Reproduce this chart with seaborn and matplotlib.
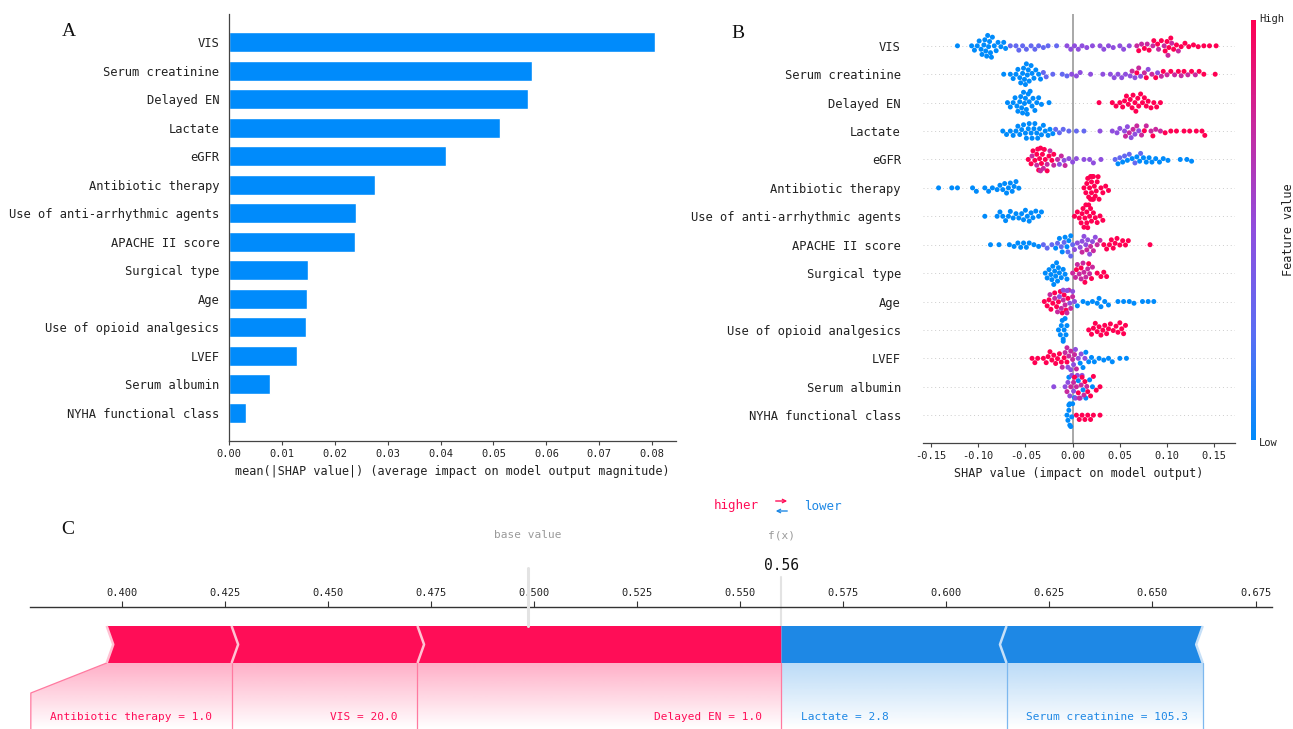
import warnings
warnings.filterwarnings("ignore")

import numpy as np
import pandas as pd
import matplotlib
matplotlib.use("Agg")
import matplotlib.pyplot as plt
import seaborn as sns
from matplotlib.colors import LinearSegmentedColormap, Normalize
from matplotlib.cm import ScalarMappable
from matplotlib.patches import Polygon
from matplotlib.ticker import FormatStrFormatter

# ---------------------------------------------------------------- data
features = ["VIS", "Serum creatinine", "Delayed EN", "Lactate", "eGFR",
            "Antibiotic therapy", "Use of anti-arrhythmic agents", "APACHE II score",
            "Surgical type", "Age", "Use of opioid analgesics", "LVEF",
            "Serum albumin", "NYHA functional class"]
mean_abs_shap = [0.0805, 0.0573, 0.0565, 0.0512, 0.0410, 0.0276, 0.0240, 0.0238,
                 0.0149, 0.0147, 0.0145, 0.0128, 0.0077, 0.0032]

# beeswarm SHAP values grouped by feature-value level
vis_low = [-0.122, -0.107, -0.104, -0.101, -0.099, -0.097, -0.096, -0.094, -0.093, -0.092, -0.091,
           -0.090, -0.089, -0.088, -0.087, -0.086, -0.085, -0.083, -0.081, -0.079, -0.076, -0.073, -0.071]
vis_mlow = [-0.066, -0.060, -0.057, -0.053, -0.049, -0.044, -0.040, -0.036, -0.031, -0.026, -0.017]
vis_mid = [-0.006, -0.002, 0.002, 0.006, 0.010, 0.015, 0.021, 0.029, 0.033, 0.038, 0.043, 0.050, 0.054, 0.060]
vis_mhigh = [0.068, 0.073, 0.079, 0.085, 0.091, 0.097, 0.101, 0.105, 0.112]
vis_high = [0.070, 0.076, 0.081, 0.086, 0.090, 0.094, 0.098, 0.100, 0.102, 0.104, 0.107, 0.110,
            0.115, 0.119, 0.123, 0.128, 0.133, 0.139, 0.145, 0.152]

scr_low = [-0.073, -0.066, -0.063, -0.060, -0.058, -0.056, -0.055, -0.053, -0.052, -0.051, -0.050,
           -0.049, -0.048, -0.047, -0.046, -0.044, -0.043, -0.041, -0.039, -0.036, -0.034]
scr_mlow = [-0.031, -0.028, -0.021, -0.011, -0.006]
scr_mid = [-0.001, 0.004, 0.008, 0.019, 0.032, 0.040, 0.044, 0.048, 0.052, 0.056, 0.061, 0.066, 0.072, 0.080, 0.090]
scr_mhigh = [0.063, 0.070, 0.076, 0.084, 0.094, 0.100, 0.108, 0.115, 0.122, 0.130]
scr_high = [0.068, 0.078, 0.088, 0.096, 0.104, 0.112, 0.118, 0.126, 0.134, 0.139, 0.151]

den_low = [-0.069, -0.066, -0.063, -0.061, -0.059, -0.058, -0.056, -0.055, -0.054, -0.053, -0.052,
           -0.051, -0.050, -0.049, -0.048, -0.047, -0.046, -0.045, -0.043, -0.042, -0.040, -0.038,
           -0.036, -0.033, -0.025]
den_high = [0.028, 0.042, 0.046, 0.050, 0.053, 0.055, 0.057, 0.059, 0.061, 0.063, 0.064, 0.066,
            0.067, 0.069, 0.070, 0.072, 0.074, 0.076, 0.078, 0.080, 0.083, 0.086, 0.089, 0.093]

lac_low = [-0.074, -0.070, -0.066, -0.063, -0.060, -0.058, -0.056, -0.054, -0.052, -0.050, -0.049,
           -0.047, -0.046, -0.044, -0.043, -0.041, -0.040, -0.038, -0.037, -0.035, -0.033, -0.031,
           -0.029, -0.026, -0.024, -0.021]
lac_mlow = [-0.018, -0.014, -0.010, -0.004, 0.004, 0.012]
lac_mid = [0.029, 0.042, 0.047, 0.050, 0.055, 0.058, 0.062, 0.066, 0.070]
lac_mhigh = [0.056, 0.060, 0.064, 0.068, 0.073, 0.078, 0.083, 0.088, 0.093]
lac_high = [0.076, 0.085, 0.098, 0.104, 0.110, 0.118, 0.124, 0.131, 0.137, 0.140]

egfr_high = [-0.047, -0.044, -0.042, -0.040, -0.038, -0.037, -0.036, -0.035, -0.034, -0.033, -0.032,
             -0.030, -0.029, -0.027, -0.025, -0.022, -0.020]
egfr_mhigh = [-0.043, -0.038, -0.034, -0.031, -0.027, -0.024, -0.020, -0.016, -0.012, -0.008]
egfr_mid = [-0.014, -0.009, -0.004, 0.000, 0.004, 0.012, 0.018, 0.022, 0.030]
egfr_mlow = [0.045, 0.050, 0.055, 0.060, 0.066, 0.072]
egfr_low = [0.048, 0.053, 0.058, 0.063, 0.068, 0.071, 0.075, 0.078, 0.081, 0.084, 0.088, 0.092,
            0.096, 0.101, 0.114, 0.121, 0.126]

abx_low = [-0.142, -0.128, -0.122, -0.106, -0.102, -0.093, -0.089, -0.085, -0.080, -0.077, -0.074,
           -0.072, -0.070, -0.068, -0.066, -0.064, -0.062, -0.060, -0.057]
abx_high = [0.012, 0.014, 0.015, 0.016, 0.017, 0.018, 0.019, 0.019, 0.020, 0.020, 0.021, 0.021,
            0.022, 0.022, 0.023, 0.024, 0.025, 0.026, 0.027, 0.028, 0.030, 0.032, 0.035, 0.038]

arr_low = [-0.093, -0.080, -0.077, -0.074, -0.071, -0.068, -0.066, -0.063, -0.060, -0.057, -0.054,
           -0.052, -0.050, -0.048, -0.046, -0.044, -0.042, -0.039, -0.036, -0.033]
arr_high = [0.002, 0.005, 0.007, 0.009, 0.010, 0.011, 0.012, 0.013, 0.014, 0.015, 0.015, 0.016,
            0.017, 0.018, 0.019, 0.020, 0.022, 0.024, 0.026, 0.029, 0.032]

apa_low = [-0.087, -0.078, -0.067, -0.062, -0.058, -0.055, -0.052, -0.049, -0.046, -0.041, -0.036,
           -0.018, -0.014, -0.011, -0.008, -0.006, -0.004, -0.002]
apa_mlow = [-0.031, -0.027, -0.022, -0.016, -0.012, -0.009, -0.005, -0.002, 0.000]
apa_mid = [0.002, 0.005, 0.008, 0.010, 0.012, 0.014, 0.016, 0.018, 0.021, 0.024]
apa_mhigh = [0.010, 0.015, 0.019, 0.022, 0.026, 0.029]
apa_high = [0.033, 0.036, 0.039, 0.041, 0.043, 0.045, 0.047, 0.050, 0.053, 0.056, 0.059, 0.082]

sur_low = [-0.029, -0.027, -0.025, -0.023, -0.022, -0.021, -0.020, -0.019, -0.018, -0.017, -0.016,
           -0.015, -0.014, -0.012, -0.010, -0.008, -0.006]
sur_mhigh = [0.000, 0.003, 0.005, 0.007, 0.009, 0.011, 0.012, 0.014, 0.016, 0.018, 0.021]
sur_high = [0.004, 0.009, 0.013, 0.017, 0.020, 0.026, 0.030, 0.033, 0.036]

age_high = [-0.030, -0.027, -0.025, -0.023, -0.021, -0.019, -0.017, -0.015, -0.013, -0.011, -0.009,
            -0.007, -0.005]
age_mhigh = [-0.024, -0.019, -0.016, -0.012, -0.010, -0.008, -0.006, -0.004, -0.002, 0.000]
age_mid = [-0.014, -0.010, -0.006, -0.003, 0.000, 0.002]
age_low = [0.005, 0.011, 0.016, 0.021, 0.026, 0.028, 0.030, 0.034, 0.038, 0.048, 0.054, 0.060,
           0.065, 0.074, 0.080, 0.086]

opi_low = [-0.015, -0.013, -0.012, -0.011, -0.010, -0.010, -0.009, -0.008, -0.007, -0.006]
opi_high = [0.017, 0.020, 0.022, 0.024, 0.026, 0.028, 0.030, 0.032, 0.034, 0.036, 0.038, 0.040,
            0.043, 0.046, 0.048, 0.050, 0.052, 0.054, 0.056]

lvef_high = [-0.043, -0.040, -0.037, -0.031, -0.028, -0.026, -0.024, -0.022, -0.020, -0.018, -0.016,
             -0.014, -0.012, -0.009, -0.006]
lvef_mhigh = [-0.011, -0.008, -0.006, -0.004, -0.002, 0.000, 0.002, 0.004]
lvef_mid = [-0.005, -0.002, 0.001, 0.003, 0.006, 0.009, 0.013]
lvef_low = [0.008, 0.011, 0.014, 0.017, 0.020, 0.023, 0.028, 0.033, 0.038, 0.042, 0.050, 0.057]

alb_low = [-0.004, 0.002, 0.006, 0.011, 0.014, 0.018, 0.021]
alb_mid = [-0.020, -0.008, -0.005, -0.003, -0.001, 0.001, 0.003, 0.005, 0.008, 0.010]
alb_mhigh = [-0.006, -0.002, 0.001, 0.004, 0.007, 0.009, 0.012, 0.015]
alb_high = [0.002, 0.006, 0.010, 0.013, 0.016, 0.019, 0.022, 0.025, 0.029]

nyha_low = [-0.006, -0.005, -0.004, -0.004, -0.003, -0.003, -0.002, -0.001, 0.000]
nyha_high = [0.004, 0.007, 0.010, 0.013, 0.016, 0.019, 0.022, 0.029]

# force plot for a single prediction
force_labels = ["Antibiotic therapy = 1.0", "VIS = 20.0", "Delayed EN = 1.0",
                "Lactate = 2.8", "Serum creatinine = 105.3"]
force_shap = [0.0303, 0.0451, 0.0883, -0.0546, -0.0476]
output_value = 0.56
base_value = output_value - sum(force_shap)

# ---------------------------------------------------------------- style
BLUE = "#008bfb"
RED_F = "#ff0d57"
BLUE_F = "#1e88e5"
cmap = LinearSegmentedColormap.from_list(
    "shap_rb", ["#008bfb", "#5a6ef4", "#8f4ede", "#c7299f", "#ff0052"])

sns.set_theme(style="white")
plt.rcParams["font.family"] = ["DejaVu Sans Mono", "DejaVu Sans"]
plt.rcParams["axes.unicode_minus"] = True
TXT = "#222222"

W, H = 1293, 729
fig = plt.figure(figsize=(W / 100, H / 100), dpi=100)


def rect(x0, y0, x1, y1):
    return [x0 / W, 1 - y1 / H, (x1 - x0) / W, (y1 - y0) / H]


# ---------------------------------------------------------------- panel A
ax_a = fig.add_axes(rect(229, 14, 676, 441))
bar_df = pd.DataFrame({"feature": features, "value": mean_abs_shap})
sns.barplot(data=bar_df, x="value", y="feature", order=features, color=BLUE,
            saturation=1, width=0.7, ax=ax_a)
ax_a.set_xlim(0, 0.0845)
ax_a.set_ylim(len(features) - 0.02, -0.98)
ax_a.set_xticks(np.arange(0, 0.0801, 0.01))
ax_a.xaxis.set_major_formatter(FormatStrFormatter("%.2f"))
for s in ["top", "right"]:
    ax_a.spines[s].set_visible(False)
for s in ["left", "bottom"]:
    ax_a.spines[s].set_color("#444444")
    ax_a.spines[s].set_linewidth(0.9)
ax_a.tick_params(axis="y", length=0, pad=7, labelsize=8.7, labelcolor=TXT)
ax_a.tick_params(axis="x", bottom=True, length=3, width=0.8, color="#444444",
                 labelsize=7.5, pad=3, labelcolor=TXT)
ax_a.set_ylabel("")
ax_a.set_xlabel("mean(|SHAP value|) (average impact on model output magnitude)",
                fontsize=8.5, color=TXT, labelpad=4)

# ---------------------------------------------------------------- panel B
LOW, MLOW, MID, MHIGH, HIGH = 0.0, 0.3, 0.5, 0.75, 1.0
swarm_groups = [
    ("VIS", LOW, vis_low), ("VIS", MLOW, vis_mlow), ("VIS", MID, vis_mid),
    ("VIS", MHIGH, vis_mhigh), ("VIS", HIGH, vis_high),
    ("Serum creatinine", LOW, scr_low), ("Serum creatinine", MLOW, scr_mlow),
    ("Serum creatinine", MID, scr_mid), ("Serum creatinine", MHIGH, scr_mhigh),
    ("Serum creatinine", HIGH, scr_high),
    ("Delayed EN", LOW, den_low), ("Delayed EN", HIGH, den_high),
    ("Lactate", LOW, lac_low), ("Lactate", MLOW, lac_mlow), ("Lactate", MID, lac_mid),
    ("Lactate", MHIGH, lac_mhigh), ("Lactate", HIGH, lac_high),
    ("eGFR", HIGH, egfr_high), ("eGFR", MHIGH, egfr_mhigh), ("eGFR", MID, egfr_mid),
    ("eGFR", MLOW, egfr_mlow), ("eGFR", LOW, egfr_low),
    ("Antibiotic therapy", LOW, abx_low), ("Antibiotic therapy", HIGH, abx_high),
    ("Use of anti-arrhythmic agents", LOW, arr_low),
    ("Use of anti-arrhythmic agents", HIGH, arr_high),
    ("APACHE II score", LOW, apa_low), ("APACHE II score", MLOW, apa_mlow),
    ("APACHE II score", MID, apa_mid), ("APACHE II score", MHIGH, apa_mhigh),
    ("APACHE II score", HIGH, apa_high),
    ("Surgical type", LOW, sur_low), ("Surgical type", MHIGH, sur_mhigh),
    ("Surgical type", HIGH, sur_high),
    ("Age", HIGH, age_high), ("Age", MHIGH, age_mhigh), ("Age", MID, age_mid), ("Age", LOW, age_low),
    ("Use of opioid analgesics", LOW, opi_low), ("Use of opioid analgesics", HIGH, opi_high),
    ("LVEF", HIGH, lvef_high), ("LVEF", MHIGH, lvef_mhigh), ("LVEF", MID, lvef_mid),
    ("LVEF", LOW, lvef_low),
    ("Serum albumin", LOW, alb_low), ("Serum albumin", MID, alb_mid),
    ("Serum albumin", MHIGH, alb_mhigh), ("Serum albumin", HIGH, alb_high),
    ("NYHA functional class", LOW, nyha_low), ("NYHA functional class", HIGH, nyha_high),
]
swarm_df = pd.DataFrame([(f, lvl, v) for f, lvl, vals in swarm_groups for v in vals],
                        columns=["feature", "fv", "shap"])
palette = {lvl: cmap(lvl) for lvl in sorted(swarm_df["fv"].unique())}

ax_b = fig.add_axes(rect(923, 14, 1235, 443))
for i in range(len(features)):
    ax_b.axhline(i, color="#cccccc", lw=0.7, linestyle=(0, (1, 3)), zorder=0)
ax_b.axvline(0, color="#999999", lw=1.2, zorder=1)
sns.swarmplot(data=swarm_df, x="shap", y="feature", order=features, hue="fv",
              palette=palette, size=3.6, linewidth=0, legend=False, ax=ax_b, zorder=3)
ax_b.set_xlim(-0.1585, 0.172)
ax_b.set_ylim(len(features) - 0.02, -1.12)
ax_b.set_xticks(np.arange(-0.15, 0.151, 0.05))
ax_b.xaxis.set_major_formatter(FormatStrFormatter("%.2f"))
for s in ["top", "right", "left"]:
    ax_b.spines[s].set_visible(False)
ax_b.spines["bottom"].set_color("#444444")
ax_b.spines["bottom"].set_linewidth(0.9)
ax_b.tick_params(axis="y", length=0, pad=16, labelsize=8.7, labelcolor=TXT)
ax_b.tick_params(axis="x", bottom=True, length=3, width=0.8, color="#444444",
                 labelsize=7.5, pad=3, labelcolor=TXT)
ax_b.set_ylabel("")
ax_b.set_xlabel("SHAP value (impact on model output)", fontsize=8.5, color=TXT, labelpad=4)

cax = fig.add_axes(rect(1251, 20, 1256, 440))
cb = fig.colorbar(ScalarMappable(norm=Normalize(0, 1), cmap=cmap), cax=cax)
cb.set_ticks([])
cb.outline.set_visible(False)
fig.text(1259 / W, 1 - 19 / H, "High", fontsize=7.5, color=TXT, va="center", ha="left")
fig.text(1259 / W, 1 - 443 / H, "Low", fontsize=7.5, color=TXT, va="center", ha="left")
fig.text(1289 / W, 1 - 230 / H, "Feature value", fontsize=8.5, color=TXT,
         rotation=90, va="center", ha="center")

# ---------------------------------------------------------------- panel C
ax_c = fig.add_axes(rect(30, 606.7, 1272, 729))
X0, X1 = 0.3777, 0.679
Y_TOP, Y_BOT = 606.7, 729
ax_c.set_facecolor("none")
for s in ["bottom", "left", "right"]:
    ax_c.spines[s].set_visible(False)
ax_c.spines["top"].set_color("#333333")
ax_c.spines["top"].set_linewidth(1.0)
ax_c.xaxis.tick_top()
ax_c.set_yticks([])
ax_c.set_xticks(np.arange(0.400, 0.6751, 0.025))
ax_c.xaxis.set_major_formatter(FormatStrFormatter("%.3f"))
ax_c.tick_params(axis="x", top=True, bottom=False, direction="out", length=4, width=0.8,
                 color="#333333", labelsize=7.5, pad=2, labelcolor=TXT)

bar_top, bar_bot = 626, 663
bar_mid = (bar_top + bar_bot) / 2
tip = 0.0016
pos_vals = [v for v in force_shap if v > 0]
neg_vals = [v for v in force_shap if v < 0]
pos_labels = [lab for lab, v in zip(force_labels, force_shap) if v > 0]
neg_labels = [lab for lab, v in zip(force_labels, force_shap) if v < 0]

red_start = output_value - sum(pos_vals)
blue_end = output_value - sum(neg_vals)


def gradient_fill(poly_pts, color, alpha_top):
    """Fade a colour downward from the bar into the label area."""
    rgba = np.zeros((100, 1, 4))
    rgba[..., :3] = matplotlib.colors.to_rgb(color)
    rgba[:, 0, 3] = np.linspace(alpha_top, 0.0, 100)
    xs = [p[0] for p in poly_pts]
    im = ax_c.imshow(rgba, extent=[min(xs), max(xs), Y_BOT, bar_bot], origin="upper",
                     aspect="auto", interpolation="bilinear", zorder=1)
    patch = Polygon(poly_pts, closed=True, facecolor="none", edgecolor="none",
                    transform=ax_c.transData)
    ax_c.add_patch(patch)
    im.set_clip_path(patch)


x_edge = X0 + 0.0002
gradient_fill([(x_edge, 693), (red_start, bar_bot), (output_value, bar_bot),
               (output_value, Y_BOT), (x_edge, Y_BOT)], RED_F, 0.33)
gradient_fill([(output_value, bar_bot), (blue_end, bar_bot), (blue_end, Y_BOT),
               (output_value, Y_BOT)], BLUE_F, 0.30)

# red segments (push prediction higher)
x = red_start
for i, (v, lab) in enumerate(zip(pos_vals, pos_labels)):
    a, b = x, x + v
    last = i == len(pos_vals) - 1
    pts = [(a, bar_top), (b, bar_top), (b if last else b + tip, bar_mid), (b, bar_bot),
           (a, bar_bot), (a + tip, bar_mid)]
    ax_c.add_patch(Polygon(pts, closed=True, facecolor=RED_F, edgecolor="none", zorder=3))
    if i == 0:
        ax_c.plot([a, a + tip, a], [bar_top, bar_mid, bar_bot], color="#ffc2d3", lw=1.8,
                  zorder=4, solid_capstyle="butt")
        ax_c.plot([a, x_edge, x_edge], [bar_bot, 693, Y_BOT], color="#ff7aa0", lw=0.9, zorder=2)
    if not last:
        ax_c.plot([b, b + tip, b], [bar_top, bar_mid, bar_bot], color="#ffc2d3", lw=1.8,
                  zorder=4, solid_capstyle="butt")
    ax_c.plot([b, b], [bar_bot, Y_BOT], color="#ff7aa0", lw=0.9, zorder=2)
    ax_c.text(b - 0.0048, 717, lab, ha="right", va="center", fontsize=8, color=RED_F, zorder=5)
    x = b

# blue segments (push prediction lower)
x = output_value
for i, (v, lab) in enumerate(zip(neg_vals, neg_labels)):
    a, b = x, x - v
    first = i == 0
    pts = [(a, bar_top), (b, bar_top), (b - tip, bar_mid), (b, bar_bot), (a, bar_bot),
           (a if first else a - tip, bar_mid)]
    ax_c.add_patch(Polygon(pts, closed=True, facecolor=BLUE_F, edgecolor="none", zorder=3))
    if not first:
        ax_c.plot([a, a - tip, a], [bar_top, bar_mid, bar_bot], color="#c6e0f8", lw=1.8,
                  zorder=4, solid_capstyle="butt")
        ax_c.plot([a, a], [bar_bot, Y_BOT], color="#7db8ef", lw=0.9, zorder=2)
    if i == len(neg_vals) - 1:
        ax_c.plot([b, b - tip, b], [bar_top, bar_mid, bar_bot], color="#c6e0f8", lw=1.8,
                  zorder=4, solid_capstyle="butt")
        ax_c.plot([b, b], [bar_bot, Y_BOT], color="#7db8ef", lw=0.9, zorder=2)
    ax_c.text(a + 0.0048, 717, lab, ha="left", va="center", fontsize=8, color=BLUE_F, zorder=5)
    x = b

# base value and f(x) markers
ax_c.plot([base_value, base_value], [568, bar_top], color="#e3e3e3", lw=2.2, zorder=6,
          clip_on=False)
ax_c.plot([output_value, output_value], [577, bar_top], color="#e3e3e3", lw=1.5, zorder=2,
          clip_on=False)
ax_c.text(base_value, 535, "base value", ha="center", va="center", fontsize=8,
          color="#9a9a9a", clip_on=False)
ax_c.text(output_value, 535, "f(x)", ha="center", va="center", fontsize=8,
          color="#9a9a9a", clip_on=False)
ax_c.text(output_value, 565, f"{output_value:.2f}", ha="center", va="center", fontsize=10.5,
          color="#111111", clip_on=False)
ax_c.text(output_value - 0.0055, 506, "higher", ha="right", va="center", fontsize=9,
          color=RED_F, clip_on=False)
ax_c.text(output_value + 0.0055, 506, "lower", ha="left", va="center", fontsize=9,
          color=BLUE_F, clip_on=False)
# direction arrows between the two words
arr_half = 0.0014
ax_c.annotate("", xy=(output_value + arr_half, 501), xytext=(output_value - arr_half, 501),
              arrowprops=dict(arrowstyle="->", color=RED_F, lw=1.0, mutation_scale=6,
                              shrinkA=0, shrinkB=0), annotation_clip=False)
ax_c.annotate("", xy=(output_value - arr_half, 511), xytext=(output_value + arr_half, 511),
              arrowprops=dict(arrowstyle="->", color=BLUE_F, lw=1.0, mutation_scale=6,
                              shrinkA=0, shrinkB=0), annotation_clip=False)

ax_c.set_xlim(X0, X1)
ax_c.set_ylim(Y_BOT, Y_TOP)

# panel letters
for letter, px, py in [("A", 69, 32), ("B", 738, 33), ("C", 68, 530)]:
    fig.text(px / W, 1 - py / H, letter, fontsize=14, family="Liberation Serif",
             color="#111111", ha="center", va="center")

fig.savefig("out.png", dpi=100)
